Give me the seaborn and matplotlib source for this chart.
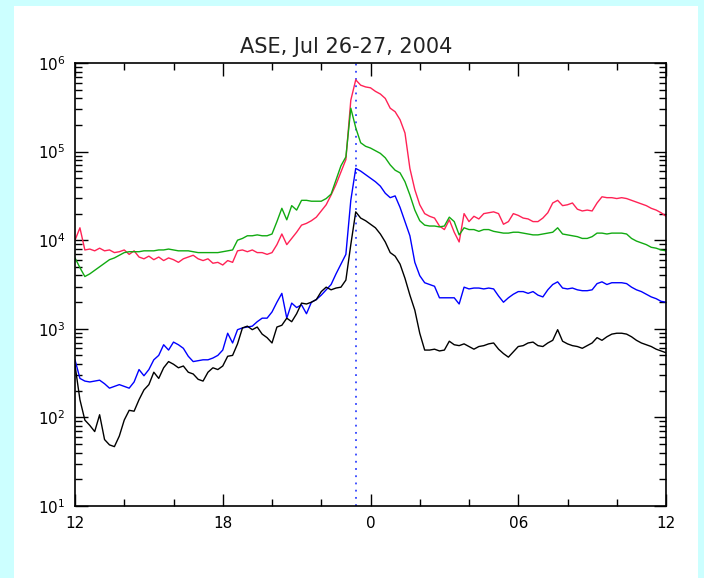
import numpy as np
import pandas as pd
import matplotlib
matplotlib.use("Agg")
import matplotlib.pyplot as plt
import seaborn as sns
from matplotlib.patches import Rectangle
from matplotlib.ticker import FixedLocator, FixedFormatter, NullFormatter, LogLocator, MultipleLocator

title = "ASE, Jul 26-27, 2004"

# sample times in hours since 00 UT Jul 26 (12 -> 36), every 0.2 h
hours = np.linspace(12, 36, 121)

# log10 of the plotted rates
red_log = [4.00, 4.14, 3.89, 3.90, 3.88, 3.91, 3.88, 3.89, 3.86, 3.87, 3.89, 3.84, 3.88, 3.81, 3.79, 3.82,
           3.78, 3.81, 3.77, 3.80, 3.78, 3.75, 3.79, 3.81, 3.83, 3.79, 3.77, 3.79, 3.74, 3.75, 3.72, 3.77,
           3.75, 3.88, 3.89, 3.87, 3.89, 3.86, 3.86, 3.84, 3.86, 3.95, 4.07, 3.95, 4.02, 4.09, 4.17, 4.19,
           4.22, 4.26, 4.33, 4.40, 4.51, 4.63, 4.77, 4.91, 5.58, 5.81, 5.75, 5.73, 5.72, 5.68, 5.65, 5.60,
           5.49, 5.45, 5.36, 5.21, 4.81, 4.57, 4.40, 4.30, 4.27, 4.25, 4.16, 4.12, 4.23, 4.09, 3.98, 4.30,
           4.21, 4.27, 4.24, 4.30, 4.31, 4.32, 4.30, 4.18, 4.21, 4.30, 4.28, 4.25, 4.24, 4.21, 4.21, 4.25,
           4.31, 4.42, 4.45, 4.39, 4.40, 4.42, 4.35, 4.33, 4.34, 4.33, 4.42, 4.49, 4.48, 4.48, 4.47, 4.48,
           4.47, 4.45, 4.43, 4.41, 4.39, 4.36, 4.34, 4.31, 4.27]

green_log = [3.80, 3.69, 3.59, 3.62, 3.66, 3.70, 3.74, 3.78, 3.80, 3.83, 3.86, 3.87, 3.87, 3.87, 3.88, 3.88,
             3.88, 3.89, 3.89, 3.90, 3.89, 3.88, 3.88, 3.88, 3.87, 3.86, 3.86, 3.86, 3.86, 3.86, 3.87, 3.88,
             3.89, 4.00, 4.02, 4.05, 4.05, 4.06, 4.05, 4.05, 4.07, 4.21, 4.36, 4.23, 4.39, 4.34, 4.45, 4.45,
             4.44, 4.44, 4.44, 4.47, 4.52, 4.68, 4.84, 4.94, 5.49, 5.27, 5.10, 5.06, 5.04, 5.01, 4.98, 4.93,
             4.85, 4.79, 4.76, 4.66, 4.51, 4.34, 4.22, 4.17, 4.16, 4.16, 4.15, 4.16, 4.26, 4.21, 4.06, 4.14,
             4.12, 4.12, 4.10, 4.12, 4.12, 4.10, 4.09, 4.08, 4.08, 4.09, 4.09, 4.08, 4.07, 4.06, 4.06, 4.07,
             4.08, 4.09, 4.14, 4.07, 4.06, 4.05, 4.04, 4.02, 4.02, 4.04, 4.08, 4.08, 4.07, 4.08, 4.08, 4.08,
             4.07, 4.02, 3.99, 3.97, 3.95, 3.92, 3.91, 3.89, 3.88]

blue_log = [2.65, 2.44, 2.41, 2.40, 2.41, 2.42, 2.38, 2.33, 2.35, 2.37, 2.35, 2.33, 2.40, 2.54, 2.47, 2.54,
            2.65, 2.70, 2.82, 2.76, 2.85, 2.82, 2.78, 2.69, 2.63, 2.64, 2.65, 2.65, 2.67, 2.70, 2.76, 2.95,
            2.84, 2.99, 3.01, 3.02, 3.03, 3.08, 3.12, 3.12, 3.19, 3.30, 3.40, 3.12, 3.29, 3.24, 3.27, 3.17,
            3.30, 3.33, 3.38, 3.44, 3.50, 3.62, 3.73, 3.84, 4.45, 4.81, 4.78, 4.74, 4.70, 4.66, 4.61, 4.53,
            4.48, 4.50, 4.37, 4.21, 4.05, 3.75, 3.60, 3.52, 3.50, 3.48, 3.35, 3.35, 3.35, 3.35, 3.28, 3.47,
            3.45, 3.46, 3.46, 3.45, 3.46, 3.45, 3.37, 3.30, 3.35, 3.39, 3.42, 3.42, 3.40, 3.42, 3.38, 3.36,
            3.44, 3.50, 3.53, 3.46, 3.45, 3.46, 3.44, 3.43, 3.43, 3.44, 3.51, 3.53, 3.50, 3.52, 3.52, 3.52,
            3.51, 3.47, 3.44, 3.42, 3.39, 3.36, 3.34, 3.31, 3.30]

black_log = [2.59, 2.20, 1.97, 1.91, 1.84, 2.03, 1.75, 1.69, 1.67, 1.79, 1.97, 2.08, 2.07, 2.20, 2.31, 2.37,
             2.51, 2.44, 2.56, 2.63, 2.60, 2.56, 2.58, 2.51, 2.49, 2.43, 2.41, 2.51, 2.56, 2.54, 2.58, 2.69,
             2.70, 2.83, 3.01, 3.03, 2.99, 3.02, 2.94, 2.90, 2.84, 3.02, 3.04, 3.12, 3.08, 3.17, 3.29, 3.28,
             3.30, 3.33, 3.42, 3.47, 3.44, 3.46, 3.47, 3.55, 3.95, 4.32, 4.25, 4.22, 4.18, 4.14, 4.07, 3.98,
             3.86, 3.82, 3.73, 3.57, 3.38, 3.21, 2.95, 2.76, 2.76, 2.77, 2.75, 2.76, 2.86, 2.82, 2.81, 2.83,
             2.80, 2.77, 2.80, 2.81, 2.83, 2.84, 2.77, 2.72, 2.68, 2.74, 2.80, 2.81, 2.84, 2.85, 2.81, 2.80,
             2.84, 2.87, 2.99, 2.86, 2.83, 2.81, 2.80, 2.78, 2.81, 2.84, 2.90, 2.87, 2.91, 2.94, 2.95, 2.95,
             2.94, 2.91, 2.87, 2.84, 2.82, 2.80, 2.77, 2.75, 2.73]

series_names = ["red", "green", "blue", "black"]
series_colors = ["#ff2255", "#11aa11", "#0000ff", "#000000"]
flare_time = 23.41

x_ticks = [12, 18, 24, 30, 36]
x_labels = ["12", "18", "0", "06", "12"]
y_ticks = [1e1, 1e2, 1e3, 1e4, 1e5, 1e6]
y_labels = [r"$10^{1}$", r"$10^{2}$", r"$10^{3}$", r"$10^{4}$", r"$10^{5}$", r"$10^{6}$"]

frames = []
for name, logs in zip(series_names, [red_log, green_log, blue_log, black_log]):
    frames.append(pd.DataFrame({"hour": hours, "value": 10.0 ** np.array(logs), "series": name}))
df = pd.concat(frames, ignore_index=True)

sns.set_style("ticks")
plt.rcParams["font.family"] = ["DejaVu Sans"]

W, H = 704, 578
fig = plt.figure(figsize=(W / 100, H / 100), dpi=100, facecolor="#ccffff")
panel = Rectangle((14 / W, 0), 684 / W, 572 / H, transform=fig.transFigure,
                  facecolor="white", edgecolor="none", zorder=-10)
fig.add_artist(panel)
ax = fig.add_axes([75 / W, 1 - 506 / H, 591 / W, 443 / H])
ax.set_zorder(5)
ax.set_facecolor("white")

sns.lineplot(data=df, x="hour", y="value", hue="series", hue_order=series_names,
             palette=dict(zip(series_names, series_colors)), estimator=None,
             legend=False, ax=ax, linewidth=1.0)

ax.axvline(flare_time, color="#3344ff", linestyle=(0, (1, 3)), linewidth=1.3, zorder=1)

ax.set_yscale("log")
ax.set_xlim(12, 36)
ax.set_ylim(10, 1e6)
ax.set_xlabel("")
ax.set_ylabel("")
fig.text(346 / W, 1 - 47 / H, title, fontsize=15, ha="center", va="center", color="#222222")

ax.xaxis.set_major_locator(FixedLocator(x_ticks))
ax.xaxis.set_major_formatter(FixedFormatter(x_labels))
ax.xaxis.set_minor_locator(MultipleLocator(2))
ax.yaxis.set_major_locator(FixedLocator(y_ticks))
ax.yaxis.set_major_formatter(FixedFormatter(y_labels))
ax.yaxis.set_minor_locator(LogLocator(base=10, subs=np.arange(2, 10), numticks=20))
ax.yaxis.set_minor_formatter(NullFormatter())

ax.tick_params(axis="both", which="both", direction="in", top=True, right=True, colors="black",
               labelsize=11, width=1.0)
ax.tick_params(axis="both", which="major", length=9, pad=7)
ax.tick_params(axis="both", which="minor", length=5)
for s in ax.spines.values():
    s.set_visible(True)
    s.set_color("black")
    s.set_linewidth(1.2)

fig.savefig("out.png", dpi=100, facecolor=fig.get_facecolor())
